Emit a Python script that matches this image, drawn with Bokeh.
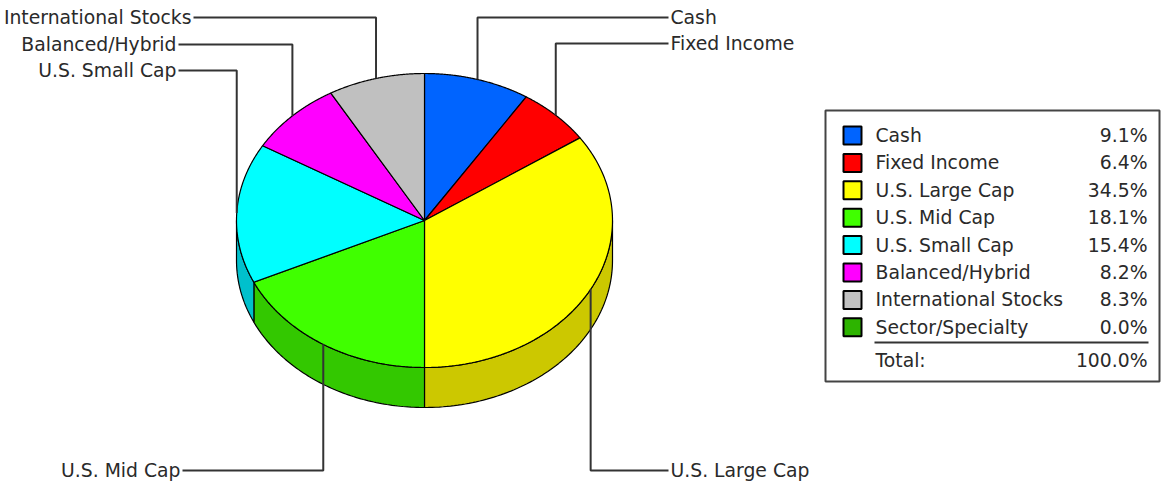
import numpy as np
from bokeh.plotting import figure
from bokeh.models import Range1d
from bokeh.embed import file_html
from bokeh.resources import INLINE
from bokeh.core.properties import value

# ---------------- data ----------------
categories = ["Cash", "Fixed Income", "U.S. Large Cap", "U.S. Mid Cap",
              "U.S. Small Cap", "Balanced/Hybrid", "International Stocks",
              "Sector/Specialty"]
percents = [9.1, 6.4, 34.5, 18.1, 15.4, 8.2, 8.3, 0.0]
colors = ["#0064FF", "#FF0000", "#FFFF00", "#40FF00", "#00FFFF", "#FF00FF",
          "#C0C0C0", "#2DB400"]
side_colors = ["#0050CC", "#CC0000", "#CCC800", "#33C800", "#00C0CC",
               "#CC00CC", "#9A9A9A", "#239000"]
total_label = "Total:"

# ---------------- layout ----------------
FONT = value("DejaVu Sans")
FS = "18.8px"
TXT = "#2a2a2a"
W, H = 1162, 483
CX, CY, RX, RY, DEPTH = 424, 220, 188, 147, 40

# leader label placement (label y, horizontal line end x)
label_layout = {
    "Cash": (17, 668),
    "Fixed Income": (43, 668),
    "U.S. Large Cap": (470, 668),
    "U.S. Mid Cap": (470, 182),
    "U.S. Small Cap": (70, 178),
    "Balanced/Hybrid": (44, 178),
    "International Stocks": (17, 193),
}

p = figure(width=W, height=H, x_range=Range1d(0, W),
           y_range=Range1d(H, 0), output_backend="svg",
           toolbar_location=None, x_axis_location=None, y_axis_location=None,
           min_border=0, tools="")
p.grid.visible = False
p.outline_line_color = None
p.background_fill_color = "white"
p.border_fill_color = "white"


def ex(t):
    return CX + RX * np.cos(np.radians(t))


def ey(t):
    return CY - RY * np.sin(np.radians(t))


vals = np.array(percents)
ends = 90 - np.cumsum(vals) * 3.6
starts = np.concatenate([[90.0], ends[:-1]])

# side faces (front half, theta in [-180, 0])
sx, sy, sc = [], [], []
for i in range(len(vals)):
    if vals[i] <= 0:
        continue
    lo = max(ends[i], -180.0)
    hi = min(starts[i], 0.0)
    if hi <= lo:
        continue
    t = np.linspace(lo, hi, 80)
    xs = list(ex(t)) + list(ex(t[::-1]))
    ys = list(ey(t)) + list(ey(t[::-1]) + DEPTH)
    sx.append(xs)
    sy.append(ys)
    sc.append(side_colors[i])
p.patches(sx, sy, fill_color=sc, line_color="black", line_width=1.2)

# top faces
tx, ty, tc = [], [], []
for i in range(len(vals)):
    if vals[i] <= 0:
        continue
    t = np.linspace(starts[i], ends[i], 120)
    tx.append([CX] + list(ex(t)))
    ty.append([CY] + list(ey(t)))
    tc.append(colors[i])
p.patches(tx, ty, fill_color=tc, line_color="black", line_width=1.2)

# leader lines and labels
for i, cat in enumerate(categories):
    if cat not in label_layout or vals[i] <= 0:
        continue
    mid = (starts[i] + ends[i]) / 2
    ax, ay = ex(mid), ey(mid)
    ly, lx = label_layout[cat]
    p.line([ax, ax, lx], [ay, ly, ly], line_color="#333333", line_width=2)
    right = np.cos(np.radians(mid)) > 0
    p.text([lx + 2 if right else lx - 2], [ly], text=[cat],
           text_align="left" if right else "right", text_baseline="middle",
           text_font=FONT, text_font_size=FS, text_color=TXT)

# legend box
p.quad(left=[825], right=[1159], top=[110], bottom=[381],
       fill_color="white", line_color="#444444", line_width=2)
row_y = 135 + np.arange(len(categories)) * 27.4
p.rect(x=[852] * len(categories), y=list(row_y), width=18, height=18,
       fill_color=colors, line_color="black", line_width=2)
p.text([875] * len(categories), list(row_y), text=categories,
       text_align="left", text_baseline="middle",
       text_font=FONT, text_font_size=FS, text_color=TXT)
p.text([1147] * len(categories), list(row_y),
       text=["%.1f%%" % v for v in percents],
       text_align="right", text_baseline="middle",
       text_font=FONT, text_font_size=FS, text_color=TXT)
p.line([874, 1148], [342, 342], line_color="#333333", line_width=2)
p.text([875], [360], text=[total_label], text_align="left",
       text_baseline="middle", text_font=FONT, text_font_size=FS,
       text_color=TXT)
p.text([1147], [360], text=["%.1f%%" % vals.sum()], text_align="right",
       text_baseline="middle", text_font=FONT, text_font_size=FS,
       text_color=TXT)

open("out.html", "w").write(file_html(p, INLINE))
